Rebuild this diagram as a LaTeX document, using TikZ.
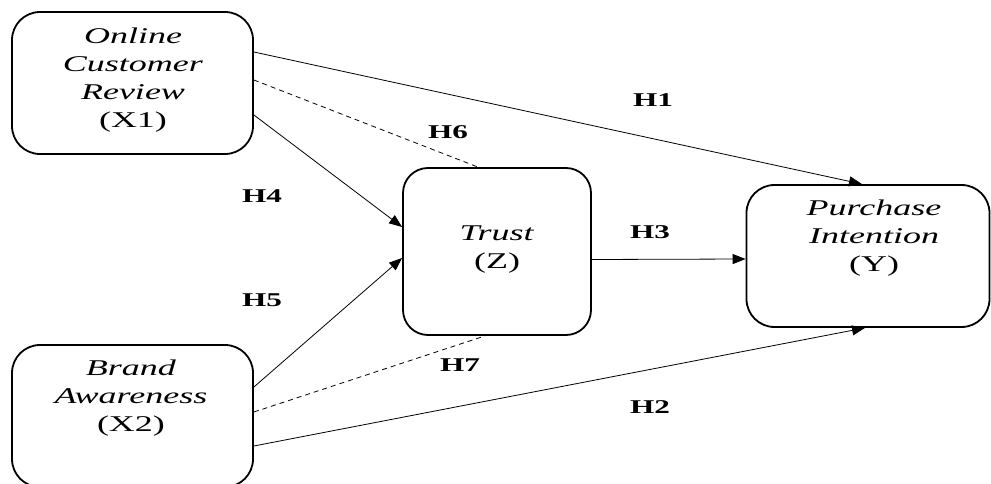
\documentclass[tikz,border=0pt]{standalone}
\usepackage{fontspec}
\setmainfont{Liberation Serif}[FakeStretch=1.6]
\usetikzlibrary{arrows.meta,calc}
\tikzset{
  box/.style={draw=black, line width=1.8pt, rounded corners=28pt, inner sep=0pt, fill=none},
  txt/.style={align=center, inner sep=0pt, font=\fontsize{22.5}{28}\selectfont},
  hlab/.style={inner sep=0pt, font=\fontsize{19.5}{21}\selectfont\bfseries},
  conn/.style={line width=0.8pt, -{Triangle[length=13pt,width=10pt]}},
  dconn/.style={line width=0.8pt, dash pattern=on 5pt off 4pt}
}
\begin{document}
\begin{tikzpicture}[x=1pt,y=-1pt]
\useasboundingbox (0,0) rectangle (991,484);
% boxes
\node[box, minimum width=241pt, minimum height=142pt] (X1) at (132.5,83) {};
\node[box, minimum width=241pt, minimum height=142pt] (X2) at (132.5,416) {};
\node[box, minimum width=188pt, minimum height=167pt, rounded corners=25pt] (Z) at (497,251.5) {};
\node[box, minimum width=243pt, minimum height=142pt] (Y) at (868,256) {};
% texts
\node[txt] (tX1) at (133,80) {\textit{Online}\\\textit{Customer}\\\textit{Review}\\(X1)};
\node[txt] (tX2) at (131,398) {\textit{Brand}\\\textit{Awareness}\\(X2)};
\node[txt] (tZ) at (497,250) {\textit{Trust}\\(Z)};
\node[txt] (tY) at (874,238) {\textit{Purchase}\\\textit{Intention}\\(Y)};
% connectors
\draw[conn] ($(X1.east)+(0,-31)$) -- ($(Y.north)+(-6,0)$);
\draw[dconn] ($(X1.east)+(0,-3)$) -- ($(Z.north)+(-19,0)$);
\draw[conn] ($(X1.east)+(0,32)$) -- ($(Z.west)+(0,-24.5)$);
\draw[conn] ($(X2.east)+(0,-29)$) -- ($(Z.west)+(0,6.5)$);
\draw[dconn] ($(X2.east)+(0,-4)$) -- ($(Z.south)+(-12,0)$);
\draw[conn] ($(X2.east)+(0,30)$) -- ($(Y.south)+(-3,0)$);
\draw[conn] ($(Z.east)+(0,8)$) -- ($(Y.west)+(0,3)$);
% labels
\node[hlab] (H1) at (653,100) {H1};
\node[hlab] (H2) at (650,407) {H2};
\node[hlab] (H3) at (650,232) {H3};
\node[hlab] (H4) at (262,196) {H4};
\node[hlab] (H5) at (262,300) {H5};
\node[hlab] (H6) at (448,132) {H6};
\node[hlab] (H7) at (460,365) {H7};
\end{tikzpicture}
\end{document}
